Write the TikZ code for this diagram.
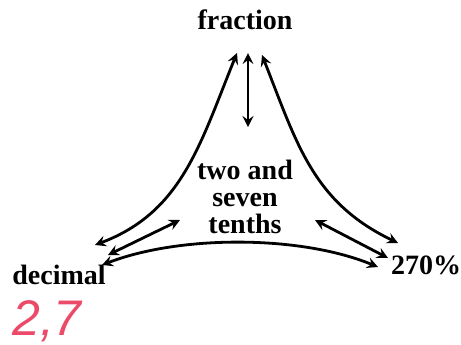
\documentclass[tikz,border=0pt]{standalone}
\usepackage{fontspec}
\setmainfont{Liberation Serif}
\newfontfamily\handfont{Liberation Sans}
\definecolor{ink}{RGB}{235,74,104}
\tikzset{
  word/.style={font=\fontsize{14}{13.5}\selectfont\bfseries, inner sep=0pt, align=center},
  link/.style={<->, >=stealth, line width=1.4pt}
}
\begin{document}
\begin{tikzpicture}[x=0.5pt, y=-0.5pt]
\useasboundingbox (0,0) rectangle (461,344);
\node[word] (frac) at (245,20) {fraction};
\node[word] (mid) at (245,197) {two and\\seven\\tenths};
\node[word] (dec) at (59,275) {decimal};
\node[word] (pct) at (426,265) {270\%};
\node[text=ink, font=\handfont\fontsize{25}{25}\selectfont\itshape] (note) at (47,321) {2,7};
% arrow ends
\coordinate (fracL) at (237,53);
\coordinate (fracM) at (248,53);
\coordinate (fracR) at (262,55);
\coordinate (midT) at (248,127);
\coordinate (midL) at (180,220);
\coordinate (midR) at (315,220);
\coordinate (decT) at (95,245);
\coordinate (decM) at (108,255);
\coordinate (decB) at (102,265);
\coordinate (pctT) at (398,243);
\coordinate (pctM) at (388,258);
\coordinate (pctB) at (378,267);
\draw[link] (fracL) .. controls (200,144) and (182,212) .. (decT);
\draw[link] (fracR) .. controls (297,144) and (313,202) .. (pctT);
\draw[link] (fracM) -- (midT);
\draw[link] (decM) -- (midL);
\draw[link] (midR) -- (pctM);
\draw[link] (decB) .. controls (180,235) and (300,235) .. (pctB);
\end{tikzpicture}
\end{document}
